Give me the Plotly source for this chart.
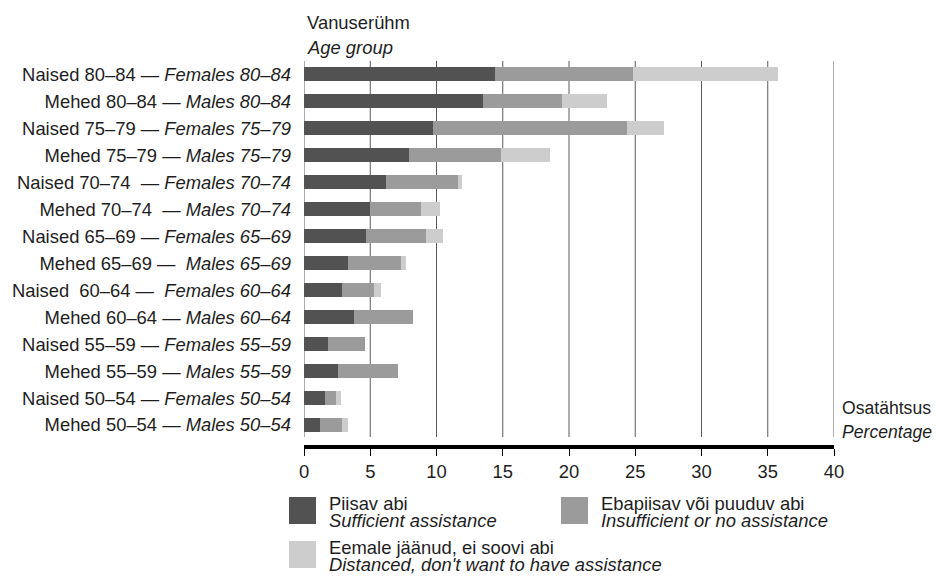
import plotly.graph_objects as go

# age groups, top to bottom (Estonian — English)
groups_et = ["Naised 80–84", "Mehed 80–84", "Naised 75–79", "Mehed 75–79",
             "Naised 70–74\u00a0", "Mehed 70–74\u00a0", "Naised 65–69", "Mehed 65–69",
             "Naised\u00a0 60–64", "Mehed 60–64", "Naised 55–59", "Mehed 55–59",
             "Naised 50–54", "Mehed 50–54"]
groups_en = ["Females 80–84", "Males 80–84", "Females 75–79", "Males 75–79",
             "Females 70–74", "Males 70–74", "Females 65–69", "\u00a0Males 65–69",
             "\u00a0Females 60–64", "Males 60–64", "Females 55–59", "Males 55–59",
             "Females 50–54", "Males 50–54"]

# percentages (stacked segments)
sufficient = [14.4, 13.5, 9.7, 7.9, 6.2, 5.0, 4.7, 3.3, 2.9, 3.8, 1.8, 2.6, 1.6, 1.2]
insufficient = [10.4, 6.0, 14.7, 7.0, 5.4, 3.8, 4.5, 4.0, 2.4, 4.4, 2.8, 4.5, 0.8, 1.7]
distanced = [11.0, 3.4, 2.8, 3.7, 0.3, 1.5, 1.3, 0.4, 0.5, 0, 0, 0, 0.4, 0.4]

series_et = ["Piisav abi", "Ebapiisav või puuduv abi", "Eemale jäänud, ei soovi abi"]
series_en = ["Sufficient assistance", "Insufficient or no assistance",
             "Distanced, don't want to have assistance"]
colors = ["#525252", "#9b9b9b", "#cdcdcd"]

x_ticks = list(range(0, 41, 5))

labels = [f"{a} — <i>{b}</i>" for a, b in zip(groups_et, groups_en)]

FONT = "Liberation Sans, Arial, Helvetica, sans-serif"
TXT = "#1e1e1e"
FS = 18.4

# page has an 8px body margin; keep the figure inside the window (no scrollbars)
OFF = 8
W, H = 940 - 2 * OFF, 582 - 2 * OFF
# plot box in reference-picture pixels
L, R, T, B = 304, 834, 61, 445
def px(x):
    return (x - L) / (R - L)
def py(y):
    return (B - y) / (B - T)

fig = go.Figure()
for vals, name, col in zip([sufficient, insufficient, distanced], series_et, colors):
    fig.add_trace(go.Bar(x=vals, y=labels, orientation="h", name=name,
                         marker=dict(color=col, line=dict(width=0)),
                         showlegend=False))

shapes = []
# vertical grid lines, stopping short of the axis line
for v in x_ticks:
    shapes.append(dict(type="line", xref="x", yref="paper", x0=v, x1=v,
                       y0=py(437), y1=1, line=dict(color="#5a5a5a", width=1),
                       layer="below"))

annotations = [
    dict(text="Vanuserühm", x=px(305), y=py(22)),
    dict(text="<i>Age group</i>", x=px(305), y=py(47)),
    dict(text="Osatähtsus", x=px(840), y=py(408), font=dict(size=17.6)),
    dict(text="<i>Percentage</i>", x=px(840), y=py(432), font=dict(size=17.6)),
]

# hand-made legend: big squares with two-line labels
legend_pos = [(289, 497), (561, 497), (289, 541)]
for (lx, ly), col, et, en in zip(legend_pos, colors, series_et, series_en):
    shapes.append(dict(type="rect", xref="paper", yref="paper",
                       x0=px(lx), x1=px(lx + 27), y0=py(ly), y1=py(ly + 27),
                       fillcolor=col, line=dict(width=0)))
    annotations.append(dict(text=et, x=px(lx + 38), y=py(ly + 6)))
    annotations.append(dict(text=f"<i>{en}</i>", x=px(lx + 38), y=py(ly + 23)))

for a in annotations:
    size = a.get("font", {}).get("size", FS)
    a.update(xref="paper", yref="paper", xanchor="left", yanchor="middle",
             showarrow=False, align="left", font=dict(size=size, color=TXT, family=FONT))

fig.update_layout(
    barmode="stack",
    bargap=0.48,
    width=W, height=H,
    margin=dict(l=L - OFF, r=W - (R - OFF), t=T - OFF, b=H - (B - OFF)),
    plot_bgcolor="white", paper_bgcolor="white",
    font=dict(family=FONT, size=FS, color=TXT),
    shapes=shapes,
    annotations=annotations,
    xaxis=dict(range=[0, 40], tickvals=x_ticks, showgrid=False, zeroline=False,
               showline=True, linecolor="black", linewidth=4, automargin=False,
               ticks="outside", ticklen=7, tickcolor="black", tickwidth=1,
               tickfont=dict(size=FS, color=TXT)),
    yaxis=dict(range=[13.74, -0.5], showgrid=False, zeroline=False, showline=False,
               automargin=False, ticks="", ticklabelstandoff=12,
               tickfont=dict(size=FS, color=TXT)),
)

fig.write_html("out.html")
